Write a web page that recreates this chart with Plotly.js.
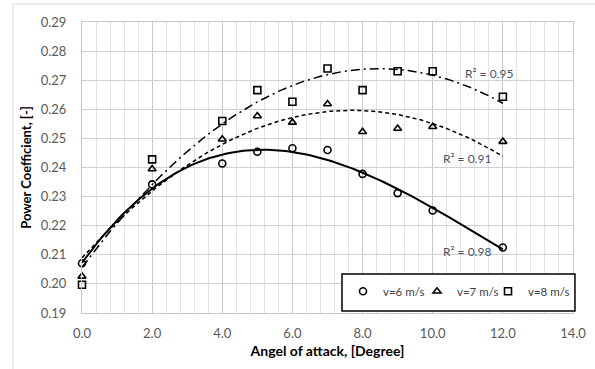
<!DOCTYPE html>
<html><head><meta charset="utf-8">
<script src="https://cdn.plot.ly/plotly-3.0.1.min.js"></script>
<style>html,body{margin:0;padding:0;background:#fff}#chart{width:595px;height:369px}</style>
</head><body><div id="chart"></div>
<script>
const angles = [0, 2, 4, 5, 6, 7, 8, 9, 10, 12];
const cpV6 = [0.2071, 0.2342, 0.2414, 0.2454, 0.2466, 0.2460, 0.2378, 0.2312, 0.2252, 0.2125];
const cpV7 = [0.2026, 0.2395, 0.2497, 0.2577, 0.2555, 0.2618, 0.2523, 0.2534, 0.2540, 0.2489];
const cpV8 = [0.1997, 0.2428, 0.2560, 0.2666, 0.2626, 0.2740, 0.2666, 0.2731, 0.2731, 0.2643];
const seriesNames = ['v=6 m/s', 'v=7 m/s', 'v=8 m/s'];
const trendOrders = [3, 2, 2];
const r2Labels = ['R² = 0.98', 'R² = 0.91', 'R² = 0.95'];
const xTicks = [0, 2, 4, 6, 8, 10, 12, 14];

function polyfit(xs, ys, deg) {
  const n = deg + 1;
  const A = Array.from({length: n}, () => new Array(n + 1).fill(0));
  for (let i = 0; i < xs.length; i++) {
    for (let r = 0; r < n; r++) {
      for (let c = 0; c < n; c++) A[r][c] += Math.pow(xs[i], r + c);
      A[r][n] += ys[i] * Math.pow(xs[i], r);
    }
  }
  for (let c = 0; c < n; c++) {
    let p = c;
    for (let r = c + 1; r < n; r++) if (Math.abs(A[r][c]) > Math.abs(A[p][c])) p = r;
    const tmp = A[c]; A[c] = A[p]; A[p] = tmp;
    for (let r = 0; r < n; r++) {
      if (r === c) continue;
      const f = A[r][c] / A[c][c];
      for (let k = c; k <= n; k++) A[r][k] -= f * A[c][k];
    }
  }
  return A.map((row, i) => row[n] / row[i]);
}
function trend(ys, deg) {
  const co = polyfit(angles, ys, deg);
  const xs = [], yv = [];
  const x0 = angles[0], x1 = angles[angles.length - 1];
  for (let k = 0; k <= 120; k++) {
    const x = x0 + (x1 - x0) * k / 120;
    xs.push(x);
    yv.push(co.reduce((s, c, i) => s + c * Math.pow(x, i), 0));
  }
  return {xs, yv};
}

const allY = [cpV6, cpV7, cpV8];
const symbols = ['circle-open', 'triangle-up-open', 'square-open'];
const dashes = ['solid', '4px,3px', '9px,4px,2px,4px'];
const widths = [2, 1.5, 1.5];
const legendIds = ['legend', 'legend2', 'legend3'];
const traces = [];
allY.forEach((ys, i) => {
  const t = trend(ys, trendOrders[i]);
  traces.push({x: t.xs, y: t.yv, mode: 'lines', showlegend: false, hoverinfo: 'skip',
    line: {color: '#000', width: widths[i], dash: dashes[i]}});
});
allY.forEach((ys, i) => {
  traces.push({x: angles, y: ys, mode: 'markers', name: seriesNames[i], cliponaxis: false, legend: legendIds[i],
    marker: {symbol: symbols[i], size: 7, color: '#000', line: {width: 1.6, color: '#000'}}});
});

function legendBox(xp) {
  return {orientation: 'h', x: xp, xanchor: 'left', y: 0.025, yanchor: 'bottom',
    bgcolor: 'rgba(0,0,0,0)', borderwidth: 0, font: {size: 11.5, color: '#404040'}, itemwidth: 30};
}

const layout = {
  width: 595, height: 369,
  margin: {l: 82, r: 22, t: 22, b: 56},
  paper_bgcolor: '#fff', plot_bgcolor: '#fff',
  font: {family: 'Lato, "Open Sans", sans-serif', color: '#595959', size: 12},
  xaxis: {
    range: [0, 14], tickvals: xTicks, tickformat: '.1f', showline: true, linecolor: '#c8c8c8', mirror: true,
    gridcolor: '#c8c8c8', gridwidth: 1, zeroline: false, ticks: 'outside', ticklen: 8, tickcolor: 'rgba(0,0,0,0)',
    minor: {dtick: 0.4, showgrid: true, gridcolor: '#e3e3e3', gridwidth: 1},
    tickfont: {size: 13, color: '#595959'},
    title: {text: '<b>Angel of attack, [Degree]</b>', font: {size: 14, color: '#000'}, standoff: 6}
  },
  yaxis: {
    range: [0.19, 0.29], dtick: 0.01, tickformat: '.2f', showline: true, linecolor: '#c8c8c8', mirror: true,
    gridcolor: '#d0d0d0', gridwidth: 1, zeroline: false, ticks: 'outside', ticklen: 12, tickcolor: 'rgba(0,0,0,0)',
    tickfont: {size: 13, color: '#595959'},
    title: {text: '<b>Power Coefficient, [-]</b>', font: {size: 13, color: '#000'}, standoff: 6}
  },
  legend: legendBox(0.5316),
  legend2: legendBox(0.6823),
  legend3: legendBox(0.8269),
  annotations: [
    {x: 10.25, y: 0.2111, text: r2Labels[0], showarrow: false, xanchor: 'left', font: {size: 12, color: '#44546a'}},
    {x: 10.25, y: 0.2432, text: r2Labels[1], showarrow: false, xanchor: 'left', font: {size: 12, color: '#44546a'}},
    {x: 10.86, y: 0.2722, text: r2Labels[2], showarrow: false, xanchor: 'left', font: {size: 12, color: '#44546a'}}
  ],
  shapes: [
    {type: 'rect', xref: 'paper', yref: 'paper', x0: -0.1405, x1: 1.3, y0: -0.4, y1: 1.062, line: {color: '#d9d9d9', width: 1}, layer: 'below'},
    {type: 'rect', xref: 'paper', yref: 'paper', x0: 0.5295, x1: 1.004, y0: 0.0069, y1: 0.134, line: {color: '#000', width: 1.5}, fillcolor: '#fff', layer: 'above'}
  ]
};
Plotly.newPlot('chart', traces, layout, {displayModeBar: false, staticPlot: true});
</script></body></html>
